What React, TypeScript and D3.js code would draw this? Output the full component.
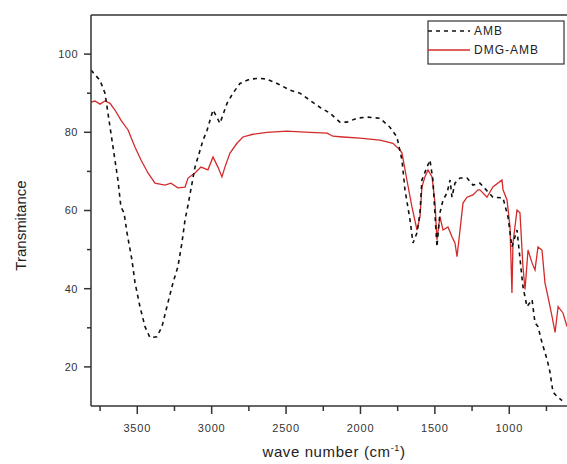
import React from "react";
import * as d3 from "d3";

const ambWave = [3811, 3751, 3717, 3677, 3630, 3610, 3589, 3569, 3536, 3515, 3482, 3448, 3415, 3368, 3334, 3301, 3260, 3227, 3200, 3179, 3159, 3112, 3058, 3031, 2991, 2944, 2897, 2857, 2810, 2743, 2676, 2629, 2561, 2474, 2407, 2340, 2273, 2205, 2138, 2091, 2024, 1957, 1869, 1802, 1755, 1721, 1701, 1667, 1647, 1620, 1600, 1587, 1553, 1533, 1513, 1486, 1466, 1445, 1418, 1398, 1385, 1365, 1331, 1284, 1244, 1197, 1110, 1042, 1009, 982, 948, 908, 881, 847, 827, 807, 780, 746, 726, 706, 672, 645];
const ambT = [95.9, 93.3, 90.0, 79.8, 67.8, 60.9, 59.4, 54.3, 47.4, 41.5, 35.4, 30.3, 27.5, 27.7, 30.3, 35.4, 41.5, 45.6, 51.7, 57.6, 61.4, 71.1, 78.0, 80.5, 85.7, 82.3, 87.4, 90.0, 92.5, 93.6, 93.8, 93.6, 92.5, 90.8, 90.0, 88.2, 86.4, 84.9, 82.6, 82.6, 83.6, 83.9, 83.6, 81.3, 78.8, 72.9, 65.3, 57.6, 51.7, 54.3, 59.4, 67.8, 71.1, 72.9, 67.8, 50.7, 59.4, 62.7, 64.5, 67.8, 63.4, 67.0, 68.3, 68.3, 66.5, 67.0, 63.4, 63.2, 58.4, 50.7, 55.0, 40.5, 35.4, 37.2, 31.3, 30.3, 26.2, 21.9, 18.6, 13.5, 12.2, 11.4];

const dmgWave = [3811, 3784, 3751, 3717, 3683, 3650, 3610, 3562, 3515, 3475, 3428, 3381, 3314, 3274, 3227, 3179, 3159, 3112, 3072, 3025, 2991, 2958, 2931, 2911, 2877, 2830, 2790, 2723, 2629, 2495, 2340, 2225, 2185, 2118, 2004, 1869, 1782, 1735, 1721, 1688, 1654, 1620, 1600, 1587, 1567, 1546, 1519, 1499, 1486, 1466, 1445, 1412, 1385, 1365, 1351, 1331, 1311, 1284, 1244, 1210, 1197, 1150, 1110, 1049, 1042, 1015, 995, 982, 975, 948, 928, 908, 894, 874, 847, 827, 807, 780, 760, 740, 712, 692, 672, 639, 612];
const dmgT = [87.7, 88.0, 87.2, 88.0, 87.4, 85.7, 83.1, 80.6, 76.2, 72.9, 69.6, 67.0, 66.5, 67.0, 65.8, 66.0, 68.3, 69.6, 71.1, 70.4, 73.7, 71.1, 68.6, 71.1, 74.7, 77.2, 78.8, 79.5, 80.0, 80.3, 80.0, 79.8, 79.0, 78.8, 78.5, 78.0, 77.2, 75.5, 74.7, 67.8, 60.9, 55.0, 58.4, 66.0, 68.6, 70.4, 68.6, 61.9, 52.5, 58.4, 55.0, 55.8, 53.3, 51.7, 48.2, 55.0, 61.9, 63.4, 64.0, 65.3, 65.3, 63.4, 66.0, 67.8, 65.3, 62.7, 55.8, 38.9, 51.7, 60.1, 59.4, 45.6, 39.8, 49.9, 46.6, 44.8, 50.7, 49.9, 41.5, 38.0, 32.8, 28.8, 35.4, 33.8, 30.3];

const yMajor = [20, 40, 60, 80, 100];
const yMinor = [30, 50, 70, 90];
const xMajor = [3500, 3000, 2500, 2000, 1500, 1000];
const xMinor = [3750, 3250, 2750, 2250, 1750, 1250, 750];
const seriesNames = ["AMB", "DMG-AMB"];

const W = 567, H = 464;
const L = 91, R = 567, T = 15, B = 406;
const axisColor = "#333";
const font = "Liberation Sans, Arial, sans-serif";

export default function App() {
  const x = d3.scaleLinear().domain([3811, 612]).range([L, R]);
  const y = d3.scaleLinear().domain([10, 110]).range([B, T]);
  const ambData = ambWave.map((w, i) => [w, ambT[i]] as [number, number]);
  const dmgData = dmgWave.map((w, i) => [w, dmgT[i]] as [number, number]);
  const line = d3.line<[number, number]>().x(d => x(d[0])).y(d => y(d[1])).curve(d3.curveLinear);

  return (
    <svg width={W} height={H} style={{ position: "absolute", left: 0, top: 0, background: "#fff" }}>
      <rect x={0} y={0} width={W} height={H} fill="#fff" />
      <defs>
        <clipPath id="plot">
          <rect x={L} y={T} width={R - L} height={B - T} />
        </clipPath>
      </defs>
      <g clipPath="url(#plot)">
        <path d={line(dmgData) || ""} fill="none" stroke="#d42a2a" strokeWidth={1.3} />
        <path d={line(ambData) || ""} fill="none" stroke="#111" strokeWidth={1.6} strokeDasharray="4,4" />
      </g>
      {/* frame */}
      <line x1={L} x2={R} y1={T} y2={T} stroke={axisColor} strokeWidth={1.5} />
      <line x1={L} x2={L} y1={T} y2={B} stroke={axisColor} strokeWidth={1.5} />
      <line x1={L} x2={R} y1={B} y2={B} stroke={axisColor} strokeWidth={1.5} />
      {/* y ticks */}
      {yMajor.map(v => (
        <g key={"ym" + v}>
          <line x1={L - 7} x2={L} y1={y(v)} y2={y(v)} stroke={axisColor} strokeWidth={1.5} />
          <text x={L - 13} y={y(v)} dy="0.35em" textAnchor="end" fontFamily={font} fontSize={11} fill="#333" letterSpacing={0.5}>{v}</text>
        </g>
      ))}
      {yMinor.map(v => (
        <line key={"yn" + v} x1={L - 4} x2={L} y1={y(v)} y2={y(v)} stroke={axisColor} strokeWidth={1.5} />
      ))}
      {/* x ticks */}
      {xMajor.map(v => (
        <g key={"xm" + v}>
          <line x1={x(v)} x2={x(v)} y1={B} y2={B + 8} stroke={axisColor} strokeWidth={1.5} />
          <text x={x(v)} y={B + 22} dy="0.35em" textAnchor="middle" fontFamily={font} fontSize={11} fill="#333" letterSpacing={0.8}>{v}</text>
        </g>
      ))}
      {xMinor.map(v => (
        <line key={"xn" + v} x1={x(v)} x2={x(v)} y1={B} y2={B + 5} stroke={axisColor} strokeWidth={1.5} />
      ))}
      {/* axis titles */}
      <text transform={`translate(21, ${(T + B) / 2 + 15}) rotate(-90)`} textAnchor="middle" dy="0.35em" fontFamily={font} fontSize={15} fill="#222">Transmitance</text>
      <text x={334} y={452} textAnchor="middle" dy="0.35em" fontFamily={font} fontSize={15} fill="#222" letterSpacing={0.6}>
        wave number (cm<tspan dy="-6" fontSize={9}>-1</tspan><tspan dy="6">)</tspan>
      </text>
      {/* legend */}
      <rect x={428} y={21} width={136} height={43} fill="#fff" stroke={axisColor} strokeWidth={1.2} />
      <line x1={428} x2={470} y1={31} y2={31} stroke="#111" strokeWidth={1.5} strokeDasharray="4,4" />
      <line x1={428} x2={470} y1={50} y2={50} stroke="#d42a2a" strokeWidth={1.3} />
      <text x={474} y={31} dy="0.35em" fontFamily={font} fontSize={12} fill="#222" letterSpacing={1}>{seriesNames[0]}</text>
      <text x={474} y={50} dy="0.35em" fontFamily={font} fontSize={12} fill="#222" letterSpacing={1}>{seriesNames[1]}</text>
    </svg>
  );
}
